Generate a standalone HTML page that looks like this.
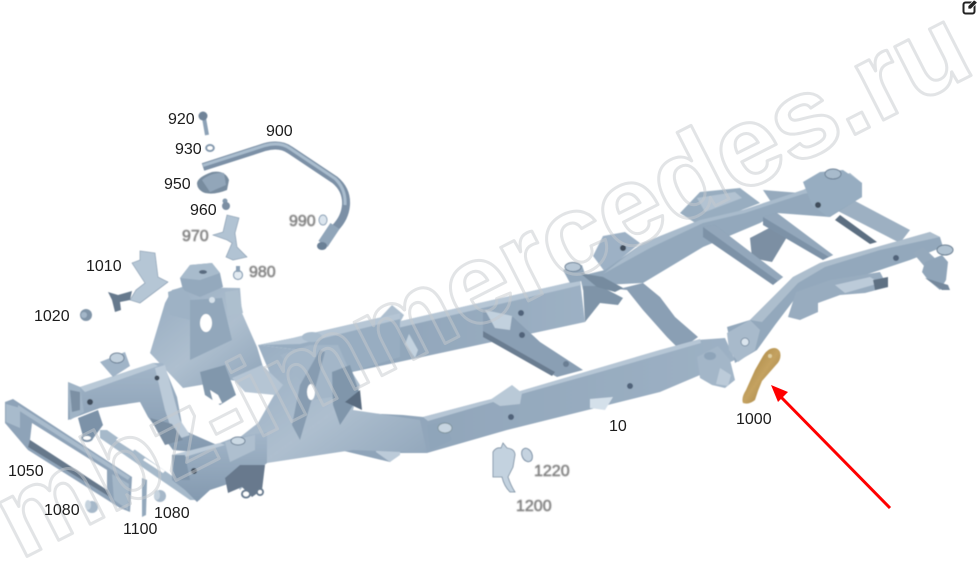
<!DOCTYPE html>
<html><head><meta charset="utf-8"><style>
html,body{margin:0;padding:0;background:#fff}
svg{display:block}
text{font-family:"Liberation Sans",sans-serif}
.l{font-size:16px;fill:#1c1c1c}
.b{font-size:16px;fill:#777;stroke:#888;stroke-width:.6;filter:url(#bl)}
</style></head><body>
<svg width="977" height="580" viewBox="0 0 977 580" xmlns="http://www.w3.org/2000/svg">
<defs>
<filter id="bl" x="-20%" y="-20%" width="140%" height="140%"><feGaussianBlur stdDeviation=".9"/></filter>
<filter id="s" x="-5%" y="-5%" width="110%" height="110%"><feGaussianBlur stdDeviation=".45"/></filter>
<linearGradient id="g1" x1="0" y1="0" x2="0" y2="1"><stop offset="0" stop-color="#a3b6c9"/><stop offset="1" stop-color="#8399af"/></linearGradient>
<linearGradient id="g2" x1="0" y1="0" x2="1" y2="1"><stop offset="0" stop-color="#96abc0"/><stop offset=".5" stop-color="#aebfcf"/><stop offset="1" stop-color="#8aa0b6"/></linearGradient>
<linearGradient id="g3" x1="0" y1="0" x2="1" y2="0"><stop offset="0" stop-color="#8ea3b8"/><stop offset="1" stop-color="#9db1c4"/></linearGradient>
<linearGradient id="gold" x1="0" y1="0" x2="1" y2="1"><stop offset="0" stop-color="#a07c3c"/><stop offset=".5" stop-color="#c4a260"/><stop offset="1" stop-color="#94733a"/></linearGradient>
</defs>
<rect width="977" height="580" fill="#fff"/>

<g filter="url(#s)">
<!-- rear tube, behind rails -->
<polygon points="832,208 840,193 910,230 900,243" fill="#9db0c2"/>
<polygon points="840,215 877,242 870,244 835,220" fill="#5c6e81"/>
<!-- bits behind far rail -->
<polygon points="750,238 775,225 790,232 772,262 752,258" fill="#7b8fa3"/>
<polygon points="680,213 700,192 740,188 760,203 700,226" fill="#98adc0"/>
<polygon points="697,198 735,192 742,198 705,212" fill="#b3c3d2"/>
<polygon points="593,256 603,236 625,232 640,243 605,272" fill="#9db1c5"/>
<circle cx="623" cy="248" r="3" fill="#3f4d5c"/>
<polygon points="763,190 800,193 805,205 775,208" fill="#96aabd"/>

<!-- far rail mid/rear -->
<polygon points="340,335 580,280 585,322 352,372" fill="url(#g3)"/>
<polygon points="340,335 580,280 581,285 342,341" fill="#b6c6d5"/>
<polygon points="580,276 605,270 643,243 700,220 743,210 803,190 840,172 862,183 862,197 830,217 777,213 760,223 703,247 643,283 603,285 583,290" fill="#93a8bc"/>
<polygon points="603,274 643,243 700,220 743,210 803,190 850,173 862,183 803,194 745,213 703,223 650,248" fill="#a9bbcc"/>
<polygon points="803,182 820,172 843,170 862,183 862,197 828,217 812,205" fill="#97adc1"/>
<ellipse cx="833" cy="174" rx="8" ry="5" fill="#a8bbcc" stroke="#6c8095"/>
<circle cx="818" cy="205" r="3" fill="#3f4d5c"/>
<!-- far end ring -->
<polygon points="563,270 582,265 587,280 570,283" fill="#93a8bc"/>
<ellipse cx="573" cy="267" rx="8" ry="4.5" fill="#b7c7d6" stroke="#6c8095"/>
<polygon points="583,286 600,286 623,298 618,305 600,303 585,322" fill="#7f94a8"/>

<!-- mid crossmember -->
<polygon points="483,310 513,317 540,342 583,370 557,377 483,337" fill="#8a9fb4"/>
<polygon points="485,310 512,316 510,330 495,328" fill="#c2d1de"/>
<polygon points="483,331 555,372 552,376 483,337" fill="#6a7d91"/>
<circle cx="522" cy="335" r="3" fill="#51647a"/>
<circle cx="566" cy="364" r="3" fill="#6a7e93"/>
<circle cx="521" cy="313" r="3" fill="#51647a"/>
<polygon points="392,305 404,315 396,330 386,328 378,320" fill="#aebfcf"/>
<polygon points="376,340 392,358 383,358 371,352" fill="#c3d2df"/>
<polygon points="409,334 418,350 415,358 405,344" fill="#c3d2df"/>

<!-- rear crossmembers -->
<polygon points="703,227 715,225 783,277 773,285 703,237" fill="#7d92a7"/>
<polygon points="703,227 715,225 783,277 778,281" fill="#93a7bb"/>
<polygon points="763,217 777,213 833,255 823,260 763,225" fill="#7d92a7"/>
<polygon points="763,217 777,213 833,255 829,257" fill="#93a7bb"/>
<!-- S-shaped crossmember -->
<polygon points="580,273 603,277 623,288 643,283 660,297 675,317 698,337 680,350 667,337 643,310 627,290 597,287" fill="#8a9fb4"/>
<polygon points="580,273 603,277 623,288 615,292 597,287" fill="#768b9f"/>

<!-- near rail -->
<polygon points="340,412 403,415 423,417 480,402 500,397 660,350 697,340 725,338 735,360 700,375 660,392 507,430 427,453 400,453 390,462 340,450" fill="url(#g3)"/>
<polygon points="423,417 480,402 500,397 660,350 700,339 701,343 600,372 507,398 428,421" fill="#b6c6d5"/>
<polygon points="590,399 613,397 605,410 590,408" fill="#d4e0ea"/>
<circle cx="511" cy="417" r="3" fill="#51647a"/>
<circle cx="630" cy="386" r="3" fill="#51647a"/>
<polygon points="490,400 512,385 522,393 520,404 500,406" fill="#b9c9d7"/>
<polygon points="427,425 445,421 452,440 430,450" fill="#8fa5ba"/>
<ellipse cx="445" cy="428" rx="7" ry="5" fill="#c7d5e1" stroke="#80959f"/>
<polygon points="378,437 402,433 400,455 390,462 376,452" fill="#bccbd9"/>
<circle cx="381" cy="447" r="3" fill="#55687c"/>
<!-- bracket at rear arch -->
<polygon points="697,357 718,346 730,360 735,380 725,388 712,385 700,378" fill="#a3b6c8"/>
<ellipse cx="710" cy="356" rx="6" ry="4" fill="#8ea4b9"/>
<polygon points="720,368 731,375 728,386 716,384" fill="#bccbd9"/>
<!-- rear arch near rail -->
<polygon points="727,327 750,320 793,277 820,263 930,232 940,237 943,247 910,260 880,270 835,285 800,292 775,325 757,350 735,363" fill="#93a8bc"/>
<polygon points="750,320 793,277 820,263 930,232 940,237 880,250 825,267 798,283 762,322" fill="#adbecd"/>
<polygon points="727,333 750,320 760,330 755,350 738,362 729,350" fill="#a8bacb"/>
<circle cx="745" cy="342" r="4" fill="#dbe5ee" stroke="#7e93a7"/>
<!-- underside rear -->
<polygon points="796,292 830,280 880,272 888,287 865,293 840,295 818,303 818,312 800,320 788,317" fill="#98acbf"/>
<polygon points="835,285 870,277 880,283 845,293" fill="#bccbd9"/>
<polygon points="873,280 888,277 888,287 875,290" fill="#5f7183"/>
<!-- rear tube near end + hook -->
<polygon points="913,253 923,247 940,263 930,273" fill="#95a9bc"/>
<polygon points="925,262 942,255 948,262 946,280 940,290 928,280 922,272" fill="#90a5b9"/>
<ellipse cx="945" cy="250" rx="8" ry="5" fill="#b0c2d1" stroke="#677b8f"/>
<circle cx="896" cy="258" r="3" fill="#51647a"/>
<polygon points="925,278 948,285 950,290 942,290" fill="#74889c"/>

<!-- front far rail start -->
<polygon points="258,345 293,338 313,333 400,313 400,357 352,372 300,350" fill="#98adc1"/>
<polygon points="258,345 293,338 400,313 400,319 300,344" fill="#b6c6d5"/>
<ellipse cx="312" cy="337" rx="10" ry="5" fill="#a9bccd"/>

<!-- shock tower -->
<polygon points="150,353 165,303 172,290 183,287 240,288 242,313 257,347 267,380 277,387 230,380 183,388" fill="url(#g2)"/>
<polygon points="180,278 190,265 212,263 220,273 223,287 200,297 183,290" fill="#94a9bd"/>
<polygon points="180,278 190,265 212,263 220,273 200,280" fill="#a8bbcc"/>
<ellipse cx="203" cy="272" rx="4" ry="2" fill="#5a6c80"/>
<polygon points="168,292 182,287 193,302 190,320 170,315" fill="#9eb2c5"/>
<polygon points="225,292 238,290 243,313 228,316" fill="#adbfce"/>
<polygon points="190,300 222,298 232,340 190,360" fill="#92a7bb"/>
<ellipse cx="206" cy="323" rx="6" ry="9" fill="#fff"/>
<circle cx="212" cy="300" r="3" fill="#d7e2eb"/>
<polygon points="200,372 225,365 236,395 220,405 205,395" fill="#8197ac"/>
<polygon points="210,390 218,395 222,403 214,405" fill="#fff"/>

<!-- central structure -->
<polygon points="258,345 300,350 352,372 360,385 353,410 420,420 427,453 353,450 333,453 267,463 240,490 225,470 230,445 258,423 277,390" fill="url(#g2)"/>
<polygon points="280,355 310,345 338,345 358,390 345,395 312,400 300,380" fill="#a3b6c8"/>
<polygon points="300,385 320,350 325,352 316,385 300,440 292,425" fill="#879cb1"/>
<polygon points="332,372 350,365 360,395 340,425 333,405" fill="#8096ab"/>
<ellipse cx="311" cy="392" rx="4" ry="8" fill="#fff"/>
<polygon points="345,402 360,390 362,410" fill="#5a6c80"/>
<polygon points="232,378 262,365 283,385 275,395 245,392" fill="#b5c5d4"/>

<!-- front far frame -->
<polygon points="68,382 80,387 153,363 163,363 177,397 183,430 217,445 195,452 173,450 148,417 140,402 100,408 68,420" fill="url(#g1)"/>
<polygon points="80,387 153,363 158,366 85,392" fill="#b9c9d7"/>
<polygon points="100,362 125,352 130,366 113,377" fill="#a0b4c7"/>
<ellipse cx="117" cy="358" rx="7" ry="5" fill="#c1d0dd" stroke="#6e8297"/>
<polygon points="68,382 80,387 84,412 70,420" fill="#a0b4c6"/>
<polygon points="70,390 80,392 80,410 72,412" fill="#7c90a4"/>
<circle cx="90" cy="402" r="3" fill="#3f4d5c"/>
<polygon points="155,368 165,365 180,420 190,435 175,440 165,410" fill="#bccbd9"/>
<circle cx="157" cy="378" r="2.5" fill="#3f4d5c"/>
<polygon points="150,418 172,424 183,440 165,445" fill="#7a8ea2"/>
<polygon points="78,418 98,410 103,425 92,440 84,440" fill="#7c92a8"/>
<ellipse cx="87" cy="438" rx="5" ry="3" fill="#fff" stroke="#7c92a8" stroke-width="2"/>

<!-- crossbar plate -->
<polygon points="100,430 107,430 175,478 200,500 190,500 100,438" fill="#a6b9ca"/>
<polygon points="118,438 135,449 133,451 116,440" fill="#fff"/>
<polygon points="145,458 165,471 163,473 143,460" fill="#fff"/>

<!-- front near frame -->
<polygon points="172,455 220,443 233,438 267,432 267,463 240,480 210,490 197,502 185,490 172,480" fill="url(#g1)"/>
<polygon points="172,455 220,443 225,445 178,459" fill="#bccbd9"/>
<polygon points="225,442 255,435 255,450 230,462" fill="#aebfcf"/>
<ellipse cx="238" cy="441" rx="7" ry="4" fill="#cbd9e4" stroke="#6e8297"/>
<polygon points="172,455 185,455 190,480 175,480" fill="#7f95ab"/>
<circle cx="194" cy="471" r="3" fill="#3f4d5c"/>
<polygon points="240,465 265,465 262,490 252,497 242,487 228,493 225,478" fill="#68798d"/>
<ellipse cx="246" cy="494" rx="4" ry="3.5" fill="#fff" stroke="#687c90" stroke-width="2"/>
<ellipse cx="260" cy="492" rx="3" ry="3" fill="#fff" stroke="#687c90" stroke-width="2"/>

<!-- bumper 1050 -->
<path fill-rule="evenodd" d="M5 402 L13 399 L132 477 L130 512 L120 508 L28 450 L5 423Z M32 423 L107 470 L107 490 L30 440Z" fill="#8ea3b8"/>
<polygon points="6,404 20,408 20,428 6,422" fill="#a8bbcc"/>
<polygon points="112,474 129,484 128,510 114,500" fill="#a4b7c8"/>
<polygon points="30,440 107,490 110,497 28,447" fill="#66788b"/>
<polygon points="18,405 130,477 128,480 18,410" fill="#a9bbcc"/>

<!-- 1100 -->
<polygon points="142,478 147,480 146,515 142,517" fill="#93a8bc"/>
<!-- bushes -->
<ellipse cx="92" cy="507" rx="6" ry="6" fill="#a6b8c9"/><ellipse cx="88" cy="505" rx="3" ry="5" fill="#c6d3de"/>
<ellipse cx="160" cy="496" rx="6" ry="6" fill="#a6b8c9"/><ellipse cx="157" cy="495" rx="3" ry="5" fill="#c6d3de"/>

<!-- 900 tube -->
<path d="M203 167 L265 147 Q280 143 290 150 L335 180 Q347 190 346 205 Q345 218 335 228" fill="none" stroke="#7b90a6" stroke-width="8"/>
<path d="M203 165.500 L265 145.500 Q280 141.500 290 148.500 L335 178.500 Q346 189 345 205" fill="none" stroke="#a9bccd" stroke-width="3"/>
<path d="M335 226 L323 244" stroke="#90a5b9" stroke-width="11" fill="none"/>
<ellipse cx="322" cy="246" rx="5" ry="4" fill="#6b8096"/>

<!-- 920 -->
<line x1="204" y1="118" x2="207" y2="135" stroke="#8ca1b6" stroke-width="4"/>
<circle cx="203" cy="116" r="4.500" fill="#6f8398"/>
<!-- 930 -->
<ellipse cx="210" cy="148" rx="3.800" ry="3" fill="#fff" stroke="#8298ad" stroke-width="2"/>
<!-- 950 -->
<path d="M197 183 Q198 177 212 172 Q225 170 229 180 L227 190 Q215 195 205 193 Q197 190 197 183Z" fill="#788c9f"/>
<path d="M202 180 Q212 172 224 173 L226 185 L210 192Z" fill="#92a6b9"/>
<!-- 960 -->
<circle cx="225" cy="201" r="2.500" fill="#8399ad"/><circle cx="226" cy="206" r="4" fill="#7b8fa3"/>
<!-- 970 -->
<polygon points="227,215 239,218 235,233 237,247 247,257 233,260 226,257 232,243 227,240 213,235 223,232" fill="#b1c3d3" stroke="#7f95ab" stroke-width=".6"/>
<!-- 980 -->
<circle cx="238" cy="275" r="4.500" fill="#e2eaf1" stroke="#8ca1b6" stroke-width="1.200"/><rect x="236" y="266" width="4" height="6" fill="#8ca1b6"/>
<!-- 990 -->
<ellipse cx="323" cy="220" rx="4" ry="5" fill="#dbe5ee" stroke="#8ca1b6"/>
<!-- 1010 -->
<polygon points="132,263 140,260 140,251 155,253 158,277 168,282 140,303 130,300 136,290 145,283" fill="#b5c6d5" stroke="#7f95ab" stroke-width=".6"/>
<polygon points="108,292 118,295 132,291 130,300 120,302 121,310 115,312 112,300" fill="#66798d"/>
<!-- 1020 -->
<circle cx="86" cy="315" r="6" fill="#8094a8"/><circle cx="84" cy="315" r="3" fill="#a3b6c8"/>
<!-- 1200 -->
<path d="M493 452 Q496 447 501 448 L503 443 L507 448 Q515 449 515 455 L513 467 L508 477 Q511 486 515 492 L510 492 Q504 486 502 477 L493 477Z" fill="#c3d2df" stroke="#75899d" stroke-width=".8"/>
<!-- 1220 -->
<ellipse cx="527" cy="455" rx="5" ry="7" fill="#c5d3e0" stroke="#7d91a5" transform="rotate(-25 527 455)"/>
<!-- 1000 -->
<path d="M770 349 Q777 346 780 352 Q782 359 776 365 L762 381 Q758 390 755 400 Q749 405 743 403 Q741 398 746 390 L755 370 L763 356 Q766 351 770 349Z" fill="url(#gold)"/>
<circle cx="770" cy="356" r="2" fill="#e0cfa0"/>
</g>

<!-- watermark -->
<text x="20" y="560" transform="rotate(-27 20 560)" textLength="1075" style="font-size:114px;font-weight:700" fill="none" stroke="#c6cace" stroke-opacity=".5" stroke-width="3" stroke-linejoin="round">mbz-immercedes.ru</text>

<!-- arrow -->
<line x1="890" y1="508" x2="780" y2="396" stroke="#f00" stroke-width="3"/>
<polygon points="771,385 788,392 778,402" fill="#f00"/>

<!-- labels -->
<text class="l" x="168" y="124">920</text>
<text class="l" x="175" y="154">930</text>
<text class="l" x="266" y="136">900</text>
<text class="l" x="164" y="189">950</text>
<text class="l" x="190" y="215">960</text>
<text class="b" x="182" y="241">970</text>
<text class="b" x="289" y="226">990</text>
<text class="b" x="249" y="277">980</text>
<text class="l" x="86" y="271">1010</text>
<text class="l" x="34" y="321">1020</text>
<text class="l" x="736" y="424">1000</text>
<text class="l" x="609" y="431">10</text>
<text class="l" x="8" y="476">1050</text>
<text class="l" x="44" y="515">1080</text>
<text class="l" x="154" y="518">1080</text>
<text class="l" x="123" y="534">1100</text>
<text class="b" x="534" y="476">1220</text>
<text class="b" x="516" y="511">1200</text>

<!-- edit icon -->
<rect x="963.500" y="2.500" width="11" height="11" rx="2" fill="none" stroke="#222" stroke-width="2"/>
<polygon points="968,6 974,0 977,2 977,3 971,9 968,9" fill="#222" stroke="#fff" stroke-width=".7"/>
</svg>
</body></html>
